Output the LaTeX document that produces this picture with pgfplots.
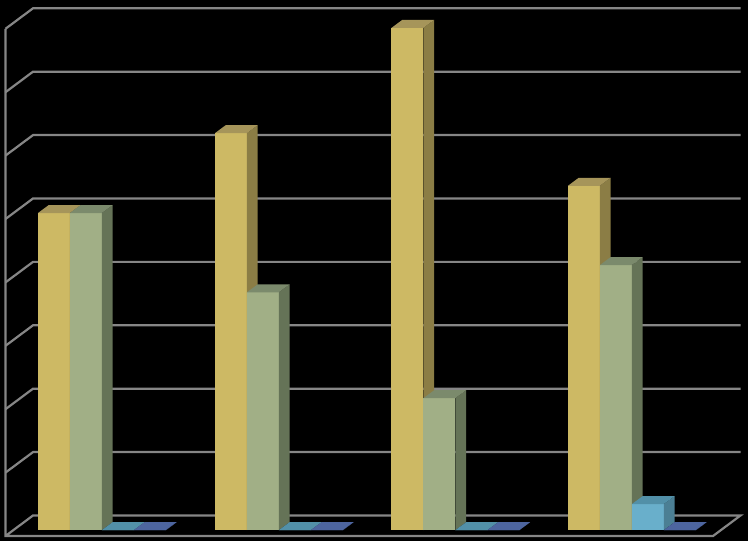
\documentclass[border=0pt]{standalone}
\usepackage{pgfplots}
\pgfplotsset{compat=1.18}
\definecolor{gridc}{HTML}{868686}
\definecolor{yf}{HTML}{CDB964}\definecolor{ys}{HTML}{8B7D45}\definecolor{yt}{HTML}{A6955A}
\definecolor{gf}{HTML}{A1AF86}\definecolor{gs}{HTML}{657357}\definecolor{gt}{HTML}{7B8A6C}
\definecolor{cf}{HTML}{69AFCB}\definecolor{cs}{HTML}{4B7F94}\definecolor{ct}{HTML}{5290A8}
\definecolor{bf}{HTML}{4D659F}
% x0, x1 (in px from the left wall), value, colours: front, side, top
\newcommand\threedbar[6]{%
  \addplot3[fill=#4,draw=none] coordinates {(#1,0.29,0)(#2,0.29,0)(#2,0.29,#3)(#1,0.29,#3)} -- cycle;
  \addplot3[fill=#5,draw=none] coordinates {(#2,0.29,0)(#2,0.68,0)(#2,0.68,#3)(#2,0.29,#3)} -- cycle;
  \addplot3[fill=#6,draw=none] coordinates {(#1,0.29,#3)(#2,0.29,#3)(#2,0.68,#3)(#1,0.68,#3)} -- cycle;
}
\newcommand\gridl[1]{\addplot3[gridc,line width=2.2pt] coordinates {(0,0,#1)(0,1,#1)(707.5,1,#1)};}
\begin{document}
\begin{tikzpicture}
\fill[black] (0pt,0pt) rectangle (748pt,541pt);
\begin{axis}[at={(5.5pt,5pt)},anchor=origin,hide axis,clip=false,
  x={(1pt,0pt)},y={(27.5pt,20.5pt)},z={(0pt,63.4pt)},
  xmin=0,xmax=707.5,ymin=0,ymax=1,zmin=0,zmax=8]
\gridl{1}\gridl{2}\gridl{3}\gridl{4}\gridl{5}\gridl{6}\gridl{7}\gridl{8}
\addplot3[gridc,line width=2.2pt] coordinates {(0,0,8)(0,0,0)(707.5,0,0)(707.5,1,0)(0,1,0)(0,0,0)};
% group 1
\threedbar{24.5}{56.5}{5.00}{yf}{ys}{yt}
\threedbar{56.5}{88.5}{5.00}{gf}{gs}{gt}
\threedbar{88.5}{120.5}{0}{cf}{cs}{ct}
\threedbar{120.5}{152.5}{0}{bf}{bf}{bf}
% group 2
\threedbar{201.5}{233.5}{6.26}{yf}{ys}{yt}
\threedbar{233.5}{265.5}{3.75}{gf}{gs}{gt}
\threedbar{265.5}{297.5}{0}{cf}{cs}{ct}
\threedbar{297.5}{329.5}{0}{bf}{bf}{bf}
% group 3
\threedbar{378}{410}{7.92}{yf}{ys}{yt}
\threedbar{410}{442}{2.08}{gf}{gs}{gt}
\threedbar{442}{474}{0}{cf}{cs}{ct}
\threedbar{474}{506}{0}{bf}{bf}{bf}
% group 4
\threedbar{554.5}{586.5}{5.43}{yf}{ys}{yt}
\threedbar{586.5}{618.5}{4.18}{gf}{gs}{gt}
\threedbar{618.5}{650.5}{0.41}{cf}{cs}{ct}
\threedbar{650.5}{682.5}{0}{bf}{bf}{bf}
\end{axis}
\end{tikzpicture}
\end{document}
